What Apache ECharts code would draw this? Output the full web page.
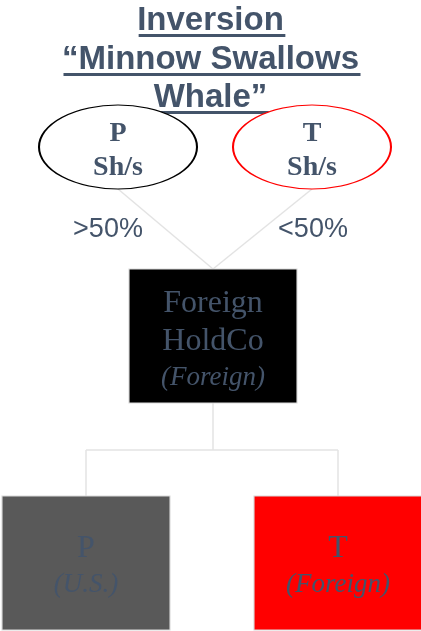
<!DOCTYPE html>
<html>
<head>
<meta charset="utf-8">
<script src="https://cdn.jsdelivr.net/npm/echarts@6/dist/echarts.min.js"></script>
<style>html,body{margin:0;padding:0;background:#fff}#c{width:421px;height:631px}</style>
</head>
<body>
<div id="c"></div>
<script>
// ---- content data ----
var titleLines = ['Inversion', '\u201cMinnow Swallows', 'Whale\u201d'];
var shareholderNames = ['P', 'T'];
var shareholderSub = 'Sh/s';
var ownershipLabels = ['>50%', '<50%'];
var holdCoLines = ['Foreign', 'HoldCo', '(Foreign)'];
var subsidiaryNames = ['P', 'T'];
var subsidiaryJurisdictions = ['(U.S.)', '(Foreign)'];

// ---- layout (positions / sizes / styles) ----
var TXT = '#44546A';
var layout = {
  shP: [118, 147], shT: [312, 147], ellipse: [158, 84],
  pctP: [108, 230], pctT: [313, 230],
  holdCo: [213, 336], box: [168, 134],
  subP: [86, 563], subT: [338, 563],
  pB: [118, 189], tB: [312, 189], hT: [213, 269], hB: [213, 403],
  j: [213, 450], l: [86, 450], r: [338, 450], pT: [86, 496], tT: [338, 496]
};
var ellipsePath = 'path://M0,50A100,50,0,1,1,200,50A100,50,0,1,1,0,50Z';

function anchor(name) {
  return { name: name, value: layout[name], symbol: 'circle', symbolSize: 1,
    itemStyle: { color: 'transparent' }, label: { show: false } };
}
function serifRich() {
  return {
    a: { fontFamily: 'Liberation Serif', fontSize: 32, lineHeight: 38, color: TXT },
    b: { fontFamily: 'Liberation Serif', fontSize: 27, fontStyle: 'italic', lineHeight: 35, color: TXT },
    s: { fontFamily: 'Liberation Serif', fontSize: 28, fontWeight: 'bold', lineHeight: 34, color: TXT }
  };
}

var nodes = [
  { name: 'shP', value: layout.shP, symbol: ellipsePath, symbolSize: layout.ellipse,
    itemStyle: { color: '#fff', borderColor: '#000', borderWidth: 1.5 },
    label: { show: true, position: 'inside', offset: [0, 4], rich: serifRich(),
      formatter: '{s|' + shareholderNames[0] + '}\n{s|' + shareholderSub + '}' } },
  { name: 'shT', value: layout.shT, symbol: ellipsePath, symbolSize: layout.ellipse,
    itemStyle: { color: '#fff', borderColor: '#ff0000', borderWidth: 1.5 },
    label: { show: true, position: 'inside', offset: [0, 4], rich: serifRich(),
      formatter: '{s|' + shareholderNames[1] + '}\n{s|' + shareholderSub + '}' } },
  { name: 'pctP', value: layout.pctP, symbol: 'circle', symbolSize: 1, itemStyle: { color: 'transparent' },
    label: { show: true, position: 'inside', formatter: ownershipLabels[0],
      fontFamily: 'Liberation Sans', fontSize: 27, color: TXT } },
  { name: 'pctT', value: layout.pctT, symbol: 'circle', symbolSize: 1, itemStyle: { color: 'transparent' },
    label: { show: true, position: 'inside', formatter: ownershipLabels[1],
      fontFamily: 'Liberation Sans', fontSize: 27, color: TXT } },
  { name: 'holdCo', value: layout.holdCo, symbol: 'rect', symbolSize: layout.box,
    itemStyle: { color: '#000', borderColor: '#d9d9d9', borderWidth: 1 },
    label: { show: true, position: 'inside', offset: [0, 4], rich: serifRich(),
      formatter: '{a|' + holdCoLines[0] + '}\n{a|' + holdCoLines[1] + '}\n{b|' + holdCoLines[2] + '}' } },
  { name: 'subP', value: layout.subP, symbol: 'rect', symbolSize: layout.box,
    itemStyle: { color: '#595959', borderColor: '#d9d9d9', borderWidth: 1 },
    label: { show: true, position: 'inside', offset: [0, 3], rich: serifRich(),
      formatter: '{a|' + subsidiaryNames[0] + '}\n{b|' + subsidiaryJurisdictions[0] + '}' } },
  { name: 'subT', value: layout.subT, symbol: 'rect', symbolSize: layout.box,
    itemStyle: { color: '#ff0000', borderColor: '#d9d9d9', borderWidth: 1 },
    label: { show: true, position: 'inside', offset: [0, 3], rich: serifRich(),
      formatter: '{a|' + subsidiaryNames[1] + '}\n{b|' + subsidiaryJurisdictions[1] + '}' } }
];
['pB', 'tB', 'hT', 'hB', 'j', 'l', 'r', 'pT', 'tT'].forEach(function (n) { nodes.push(anchor(n)); });

var links = [['pB', 'hT'], ['tB', 'hT'], ['hB', 'j'], ['j', 'l'], ['j', 'r'], ['l', 'pT'], ['r', 'tT']]
  .map(function (e) { return { source: e[0], target: e[1] }; });

// underline rects measured from the real text widths
var cv = document.createElement('canvas').getContext('2d');
cv.font = 'bold 33px "Liberation Sans"';
var titleBaselines = [30, 69, 107];
var underlines = titleLines.map(function (t, i) {
  var w = cv.measureText(t).width;
  return { type: 'rect', shape: { x: 212 - w / 2, y: titleBaselines[i] + 4, width: w, height: 3 },
    style: { fill: TXT }, silent: true };
});

var chart = echarts.init(document.getElementById('c'), null, { renderer: 'canvas' });
chart.setOption({
  animation: false,
  backgroundColor: '#fff',
  title: {
    text: titleLines.join('\n'), left: 'center', top: 2, padding: 0,
    textStyle: { fontFamily: 'Liberation Sans', fontSize: 33, fontWeight: 'bold', lineHeight: 38.5, color: TXT }
  },
  graphic: underlines,
  grid: { left: 0, right: 0, top: 0, bottom: 0 },
  xAxis: { type: 'value', min: 0, max: 421, show: false },
  yAxis: { type: 'value', min: 0, max: 631, inverse: true, show: false },
  series: [{
    type: 'graph', coordinateSystem: 'cartesian2d', layout: 'none',
    data: nodes, links: links, silent: true,
    lineStyle: { color: '#e3e3e3', width: 1.5, opacity: 1, curveness: 0 },
    emphasis: { disabled: true }
  }]
});
</script>
</body>
</html>
